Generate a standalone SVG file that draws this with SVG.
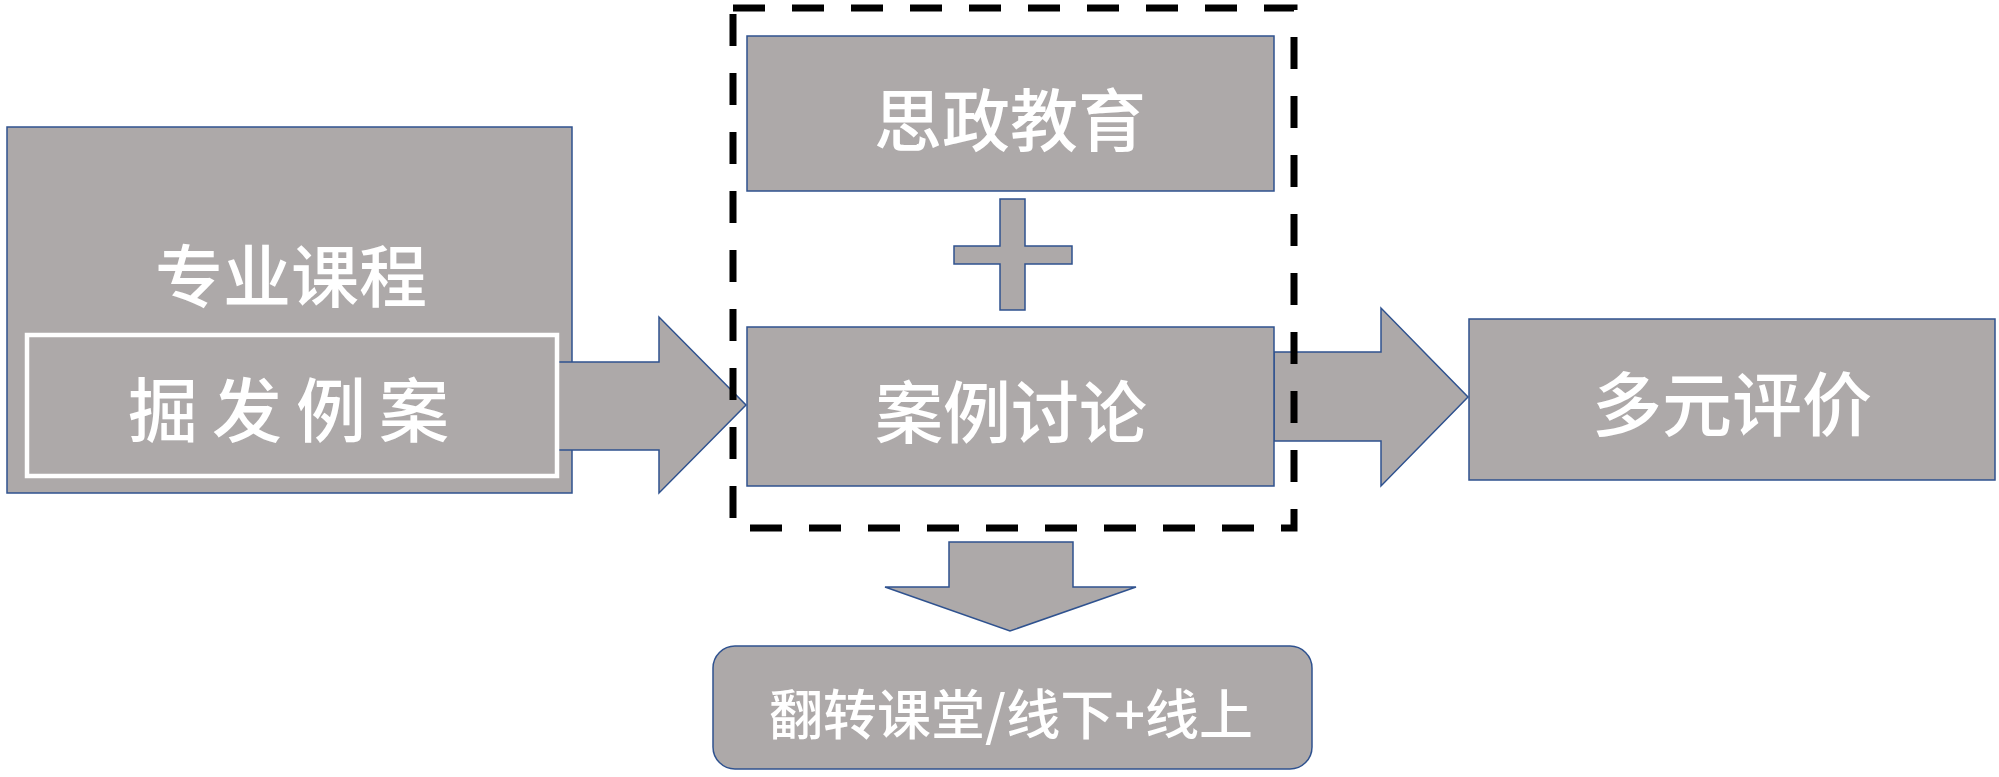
<svg xmlns="http://www.w3.org/2000/svg" width="1999" height="777" viewBox="0 0 1999 777">
<style>
.box{fill:#ADA9A9;stroke:#2F528F;stroke-width:1.5}
.arr{fill:#ADA9A9;stroke:#2F528F;stroke-width:1.5;stroke-linejoin:miter}
.t{fill:#FFFFFF;font-family:"Noto Sans CJK SC","Liberation Sans",sans-serif;font-weight:500;text-anchor:middle;dominant-baseline:central}
</style>
<rect width="1999" height="777" fill="#FFFFFF"/>
<g id="node-zhuanye">
<rect class="box" x="7" y="127" width="565" height="366"/>
<text class="t" x="291" y="272" font-size="68">专业课程</text>
</g>
<g id="connectors">
<polygon class="arr" points="557,362 659,362 659,317 746,405 659,493 659,450 557,450"/>
<polygon class="arr" points="1274,352 1381,352 1381,308 1468,397 1381,486 1381,441 1274,441"/>
<polygon class="arr" points="949,542 1073,542 1073,587 1136,587 1010,631 885,587 949,587"/>
</g>
<g id="node-juefa">
<rect x="27" y="335" width="530" height="141" fill="#ADA9A9" stroke="#FFFFFF" stroke-width="4.5"/>
<text class="t" font-size="70" x="163 247 331 414" y="406">掘发例案</text>
</g>
<g id="node-sizheng">
<rect class="box" x="747" y="36" width="527" height="155"/>
<text class="t" x="1010" y="116" font-size="68">思政教育</text>
</g>
<g id="node-plus">
<polygon class="arr" points="1000,199 1025,199 1025,246 1072,246 1072,264 1025,264 1025,310 1000,310 1000,264 954,264 954,246 1000,246"/>
</g>
<g id="node-anli">
<rect class="box" x="747" y="327" width="527" height="159"/>
<text class="t" x="1011" y="408" font-size="68">案例讨论</text>
</g>
<g id="group-dashed">
<rect x="733" y="8" width="561" height="520" fill="none" stroke="#000000" stroke-width="7" stroke-dasharray="32 27"/>
</g>
<g id="node-duoyuan">
<rect class="box" x="1469" y="319" width="526" height="161"/>
<text class="t" x="1732" y="400" font-size="70">多元评价</text>
</g>
<g id="node-fanzhuan">
<rect class="box" x="713" y="646" width="599" height="123" rx="22" ry="22"/>
<text class="t" x="1011" y="711" font-size="54">翻转课堂/线下+线上</text>
</g>
</svg>
